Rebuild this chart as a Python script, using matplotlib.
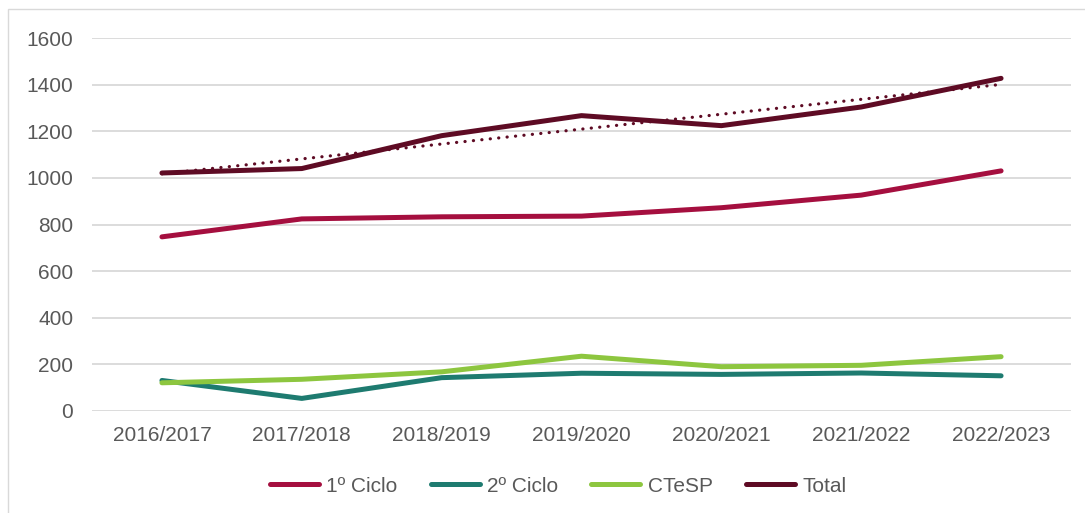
import matplotlib
matplotlib.use("Agg")
import matplotlib.pyplot as plt
import numpy as np
from matplotlib.patches import Rectangle

plt.rcParams['font.family'] = ['Liberation Sans', 'DejaVu Sans']

# data
anos = ["2016/2017", "2017/2018", "2018/2019", "2019/2020", "2020/2021", "2021/2022", "2022/2023"]
ciclo1 = [747, 824, 833, 836, 872, 926, 1030]
ciclo2 = [131, 54, 143, 162, 157, 163, 151]
ctesp = [121, 136, 168, 235, 190, 196, 233]
total = [1021, 1040, 1181, 1267, 1224, 1304, 1427]

cor_texto = '#595959'
cores = {'1º Ciclo': '#A50F3F', '2º Ciclo': '#1E7B70', 'CTeSP': '#8DC63F', 'Total': '#5E0B24'}

fig = plt.figure(figsize=(10.85, 5.13), dpi=100)
ax = fig.add_axes([92/1085, 1 - 411/513, (1071-92)/1085, (411-38)/513])

x = np.arange(len(anos))

# linear trend of Total (Excel style dotted trendline)
k, b = np.polyfit(x, total, 1)
ax.plot(x, k*x + b, color=cores['Total'], lw=2.3, linestyle=(0, (0.05, 2.6)),
        dash_capstyle='round', zorder=4)

ax.plot(x, ciclo1, color=cores['1º Ciclo'], lw=3.6, label='1º Ciclo', solid_capstyle='round', zorder=3)
ax.plot(x, ciclo2, color=cores['2º Ciclo'], lw=3.6, label='2º Ciclo', solid_capstyle='round', zorder=3)
ax.plot(x, ctesp, color=cores['CTeSP'], lw=3.6, label='CTeSP', solid_capstyle='round', zorder=3)
ax.plot(x, total, color=cores['Total'], lw=3.6, label='Total', solid_capstyle='round', zorder=3)

ax.set_xlim(-0.5, len(anos) - 0.5)
ax.set_ylim(0, 1600)
ax.set_yticks(range(0, 1601, 200))
ax.set_xticks(x)
ax.set_xticklabels(anos)
ax.grid(axis='y', color='#D9D9D9', lw=1.3)
ax.set_axisbelow(True)
for s in ax.spines.values():
    s.set_visible(False)
ax.tick_params(length=0, labelsize=15, colors=cor_texto)
ax.tick_params(axis='y', pad=13.5)
ax.tick_params(axis='x', pad=11)

leg = fig.legend(loc='center', bbox_to_anchor=(558/1085, 1 - 486/513), ncol=4, frameon=False,
                 fontsize=15, handlelength=2.35, handletextpad=0.35, columnspacing=1.6,
                 labelcolor=cor_texto)

# outer frame of the chart box
fig.patches.append(Rectangle((8/1085, -0.1), 1.2, 1 - 9/513 + 0.1, transform=fig.transFigure,
                             fill=False, edgecolor='#D9D9D9', lw=1))

fig.savefig('out.png', dpi=100)
